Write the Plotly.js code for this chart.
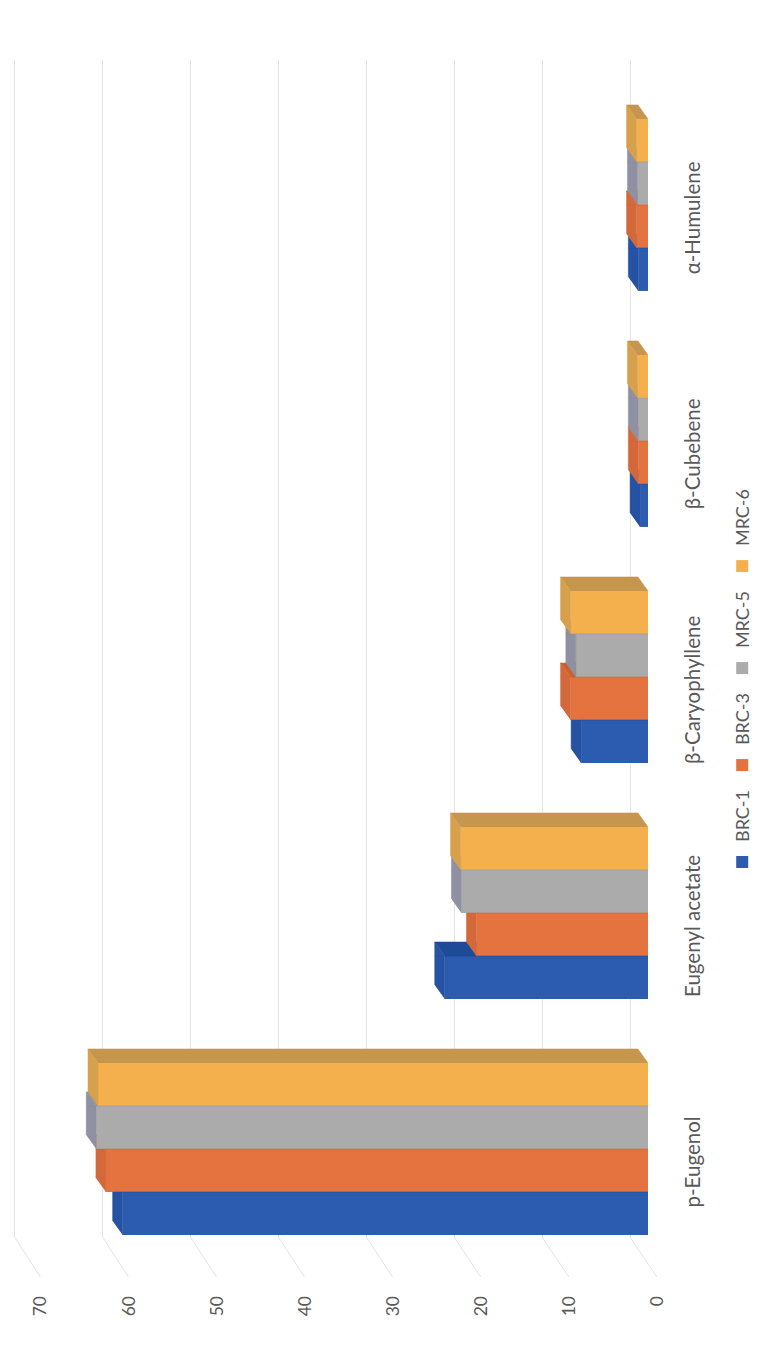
<!DOCTYPE html>
<html><head><meta charset="utf-8">
<script src="https://cdn.plot.ly/plotly-3.0.1.min.js"></script>
<style>
html,body{margin:0;padding:0;background:#fff;overflow:hidden;width:774px;height:1353px}
#chart{position:absolute;left:0;top:0;width:1353px;height:774px;transform-origin:0 0;transform:translateY(1353px) rotate(-90deg);}
</style></head><body><div id="chart"></div>
<script>
// ---- data ----
const categories = ['p-Eugenol','Eugenyl acetate','β-Caryophyllene','β-Cubebene','α-Humulene'];
const seriesNames = ['BRC-1','BRC-3','MRC-5','MRC-6'];
const brc1 = [59.7, 23.1, 7.6, 0.9, 1.1];
const brc3 = [61.6, 19.5, 8.8, 1.1, 1.3];
const mrc5 = [62.7, 21.2, 8.2, 1.1, 1.2];
const mrc6 = [62.5, 21.3, 8.8, 1.2, 1.3];
const valueTicks = [0,10,20,30,40,50,60,70];

// ---- styles / layout constants ----
const seriesValues = [brc1, brc3, mrc5, mrc6];
const frontColors = ['#2C5CAF','#E4733F','#ABABAB','#F3B04D'];
const topColors   = ['#2552A2','#D3683A','#8F90A2','#D7A04C'];
const sideColors  = ['#1F4A96','#C9612F','#979797','#C6964F'];
const W=1353, H=774, mL=57, mR=60, mT=10, mB=109;
const plotW=W-mL-mR, plotH=H-mT-mB;
const dom0=(116-mL)/plotW;
const xRange=[-0.373, 4.614];
const yBars=[-1.932, 72.5];
const yGrid=[-3.98, 70.53];
const yLab=[-0.908, 73.44];
const bargap=0.271;
const nS=seriesValues.length;
const bw=(1-bargap)/nS;
const dxPx=14, dyPx=10;
const pxPerCat=plotW*(1-dom0)/(xRange[1]-xRange[0]);
const pxPerVal=plotH/(yBars[1]-yBars[0]);
const dx=dxPx/pxPerCat, dy=dyPx/pxPerVal;
const catIdx=categories.map((c,i)=>i);

function clipHalf(poly,f){
  const out=[];
  for(let i=0;i<poly.length;i++){
    const a=poly[i], b=poly[(i+1)%poly.length];
    const fa=f(a), fb=f(b);
    if(fa>=0) out.push(a);
    if((fa>=0)!==(fb>=0)){const t=fa/(fa-fb); out.push([a[0]+t*(b[0]-a[0]), a[1]+t*(b[1]-a[1])]);}
  }
  return out;
}
function visible(poly,xr,vn){
  if(vn===null) return [poly];
  const left=clipHalf(poly,p=>xr-p[0]);
  let right=clipHalf(poly,p=>p[0]-xr);
  right=clipHalf(right,p=>p[1]-vn);
  return [left,right].filter(p=>p.length>=3);
}

const traces=[];
// front faces
seriesValues.forEach((vals,k)=>{
  traces.push({type:'bar', x:catIdx, y:vals, name:seriesNames[k],
    marker:{color:frontColors[k], line:{width:0}}, hoverinfo:'x+y'});
});
// 3D faces
seriesValues.forEach((vals,k)=>{
  const sx=[], sy=[], tx=[], ty=[];
  catIdx.forEach(i=>{
    const v=vals[i];
    const xl=i-(1-bargap)/2+k*bw, xr=xl+bw;
    const vn = k<nS-1 ? seriesValues[k+1][i] : null;
    const top=[[xl,v],[xr,v],[xr+dx,v+dy],[xl+dx,v+dy]];
    const side=[[xr,0],[xr+dx,dy],[xr+dx,v+dy],[xr,v]];
    visible(side,xr,vn).forEach(p=>{p.forEach(q=>{sx.push(q[0]);sy.push(q[1]);}); sx.push(null); sy.push(null);});
    visible(top,xr,vn).forEach(p=>{p.forEach(q=>{tx.push(q[0]);ty.push(q[1]);}); tx.push(null); ty.push(null);});
  });
  traces.push({type:'scatter', x:sx, y:sy, mode:'lines', fill:'toself', fillcolor:sideColors[k],
    line:{color:sideColors[k], width:0.5}, showlegend:false, hoverinfo:'skip'});
  traces.push({type:'scatter', x:tx, y:ty, mode:'lines', fill:'toself', fillcolor:topColors[k],
    line:{color:topColors[k], width:0.5}, showlegend:false, hoverinfo:'skip'});
});
// helper traces so overlay axes exist
traces.push({type:'scatter', x:[0], y:[0], yaxis:'y2', mode:'markers', marker:{opacity:0}, showlegend:false, hoverinfo:'skip'});
traces.push({type:'scatter', x:[0], y:[0], yaxis:'y3', mode:'markers', marker:{opacity:0}, showlegend:false, hoverinfo:'skip'});

function pix(v,r){return mT+(r[1]-v)/(r[1]-r[0])*plotH;}
function val(p,r){return r[1]-(p-mT)/plotH*(r[1]-r[0]);}
const floorX1=(76-mL)/plotW;
const shapes=valueTicks.map(v=>({type:'line', xref:'paper', yref:'y2', x0:dom0, y0:v, x1:floorX1,
  y1:val(pix(v,yLab),yGrid), line:{color:'#E4E4E4', width:1}, layer:'below'}));

const font={family:'Lato, "Open Sans", "DejaVu Sans", sans-serif', color:'#595959'};
const layout={
  width:W, height:H, margin:{l:mL,r:mR,t:mT,b:mB,pad:0},
  paper_bgcolor:'#fff', plot_bgcolor:'rgba(0,0,0,0)',
  font:font, barmode:'group', bargap:bargap, bargroupgap:0, showlegend:true,
  xaxis:{domain:[dom0,1], range:xRange, tickvals:catIdx.map(i=>i-0.055), ticktext:categories,
    showgrid:false, zeroline:false, showline:false, ticks:'outside', ticklen:9, tickcolor:'rgba(0,0,0,0)',
    tickfont:{size:20.5, color:'#595959'}},
  yaxis:{range:yBars, showgrid:false, zeroline:false, showline:false, showticklabels:false, ticks:''},
  yaxis2:{overlaying:'y', range:yGrid, tickvals:valueTicks, showgrid:true, gridcolor:'#E4E4E4', gridwidth:1,
    zeroline:false, showline:false, showticklabels:false, ticks:'', layer:'below traces'},
  yaxis3:{overlaying:'y', anchor:'free', position:0, side:'left', range:yLab, tickvals:valueTicks,
    showgrid:false, zeroline:false, showline:false, ticks:'', tickfont:{size:17.5, color:'#595959'}},
  legend:{orientation:'h', x:(670-mL)/plotW, xanchor:'center', y:-(724-(mT+plotH))/plotH, yanchor:'top',
    font:{size:18, color:'#595959'}, traceorder:'normal', bgcolor:'rgba(0,0,0,0)'},
  shapes:shapes
};
Plotly.newPlot('chart', traces, layout, {displayModeBar:false, staticPlot:true});
</script></body></html>
